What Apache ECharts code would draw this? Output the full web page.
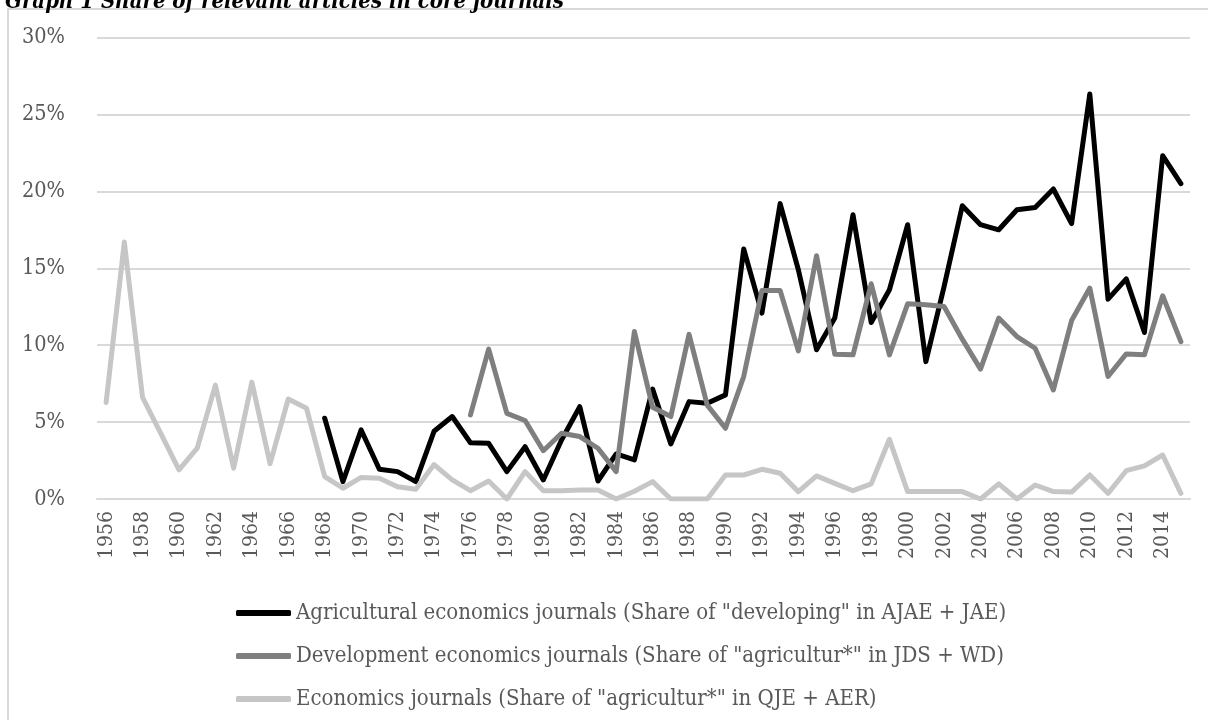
<!DOCTYPE html>
<html>
<head>
<meta charset="utf-8">
<script src="https://cdn.jsdelivr.net/npm/echarts@6/dist/echarts.min.js"></script>
<style>
  html, body { margin: 0; padding: 0; background: #fff; }
  #main { width: 1208px; height: 720px; }
</style>
</head>
<body>
<div id="main"></div>
<script>
// years on the x axis
var years = [];
for (var y = 1956; y <= 2015; y++) years.push(String(y));

// share of "developing" in AJAE + JAE (from 1968)
var agri = [null, null, null, null, null, null, null, null, null, null, null, null,
  5.25, 1.13, 4.49, 1.93, 1.78, 1.13, 4.4, 5.36, 3.66, 3.62,
  1.78, 3.4, 1.24, 3.84, 6.0, 1.17, 2.93, 2.54, 7.14, 3.58,
  6.33, 6.23, 6.77, 16.25, 12.08, 19.2, 14.9, 9.7, 11.76, 18.48,
  11.47, 13.6, 17.83, 8.93, 13.8, 19.06, 17.83, 17.5, 18.8, 18.95,
  20.15, 17.9, 26.33, 12.99, 14.31, 10.82, 22.32, 20.5];

// share of "agricultur*" in JDS + WD (from 1976)
var devel = [null, null, null, null, null, null, null, null, null, null,
  null, null, null, null, null, null, null, null, null, null,
  5.47, 9.74, 5.57, 5.1, 3.14, 4.27, 4.06, 3.3, 1.78, 10.89,
  5.96, 5.36, 10.7, 6.1, 4.6, 7.96, 13.55, 13.55, 9.63, 15.81,
  9.41, 9.37, 13.99, 9.37, 12.69, 12.62, 12.51, 10.39, 8.44, 11.76,
  10.56, 9.8, 7.09, 11.6, 13.71, 7.96, 9.43, 9.37, 13.21, 10.23];

// share of "agricultur*" in QJE + AER
var econ = [6.27, 16.7, 6.6, 4.27, 1.9, 3.3, 7.4, 2.0, 7.6, 2.3,
  6.5, 5.9, 1.45, 0.7, 1.4, 1.35, 0.8, 0.63, 2.24, 1.24,
  0.54, 1.17, 0, 1.78, 0.54, 0.54, 0.58, 0.58, 0, 0.5,
  1.13, 0, 0, 0, 1.56, 1.56, 1.93, 1.67, 0.48, 1.5,
  1.02, 0.54, 0.98, 3.88, 0.48, 0.48, 0.48, 0.48, 0, 0.98,
  0, 0.91, 0.48, 0.45, 1.56, 0.37, 1.84, 2.15, 2.86, 0.37];

var names = [
  'Agricultural economics journals (Share of "developing" in AJAE + JAE)',
  'Development economics journals (Share of "agricultur*" in JDS + WD)',
  'Economics journals (Share of "agricultur*" in QJE + AER)'
];

var font = 'DejaVu Serif Condensed';
var chart = echarts.init(document.getElementById('main'));

function line(name, data, color) {
  return {
    name: name,
    type: 'line',
    data: data,
    symbol: 'none',
    connectNulls: false,
    lineStyle: { color: color, width: 5, join: 'round', cap: 'round' },
    itemStyle: { color: color },
    animation: false
  };
}

var option = {
  backgroundColor: '#fff',
  animation: false,
  title: {
    text: 'Graph 1 Share of relevant articles in core journals',
    left: 0,
    top: -14,
    textStyle: { fontFamily: font, fontStyle: 'italic', fontWeight: 'bold', fontSize: 22, color: '#000' }
  },
  graphic: [{
    type: 'rect',
    shape: { x: 8, y: 9, width: 1210, height: 720 },
    style: { fill: 'none', stroke: '#d9d9d9', lineWidth: 2 },
    silent: true
  }],
  grid: { left: 97, right: 18, top: 37.5, bottom: 221 },
  legend: {
    orient: 'vertical',
    left: 231,
    top: 597,
    itemWidth: 55,
    itemHeight: 6,
    itemGap: 21,
    icon: 'roundRect',
    textStyle: { fontFamily: font, fontSize: 22, color: '#595959' },
    data: names
  },
  xAxis: {
    type: 'category',
    data: years,
    boundaryGap: true,
    axisLine: { lineStyle: { color: '#d9d9d9', width: 2 } },
    axisTick: { show: false },
    axisLabel: {
      interval: 1,
      rotate: 90,
      margin: 12,
      fontFamily: font,
      fontSize: 21,
      color: '#595959'
    }
  },
  yAxis: {
    type: 'value',
    min: 0,
    max: 30,
    interval: 5,
    axisLine: { show: false },
    axisTick: { show: false },
    splitLine: { lineStyle: { color: '#d9d9d9', width: 2 } },
    axisLabel: {
      formatter: '{value}%',
      margin: 32,
      fontFamily: font,
      fontSize: 21.5,
      color: '#595959'
    }
  },
  series: [
    line(names[0], agri, '#000000'),
    line(names[1], devel, '#7f7f7f'),
    line(names[2], econ, '#c6c6c6')
  ]
};

option && chart.setOption(option);
</script>
</body>
</html>
